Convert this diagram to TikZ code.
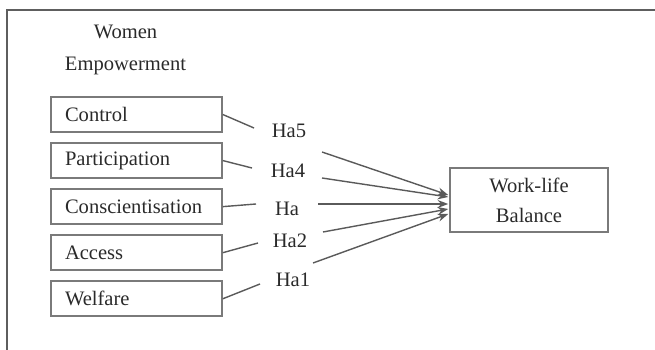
\documentclass[tikz,border=0pt]{standalone}
\usepackage{fontspec}
\setmainfont{Liberation Serif}
\usepackage{tikz}
\usetikzlibrary{positioning, calc, arrows.meta}
\definecolor{FrameGray}{HTML}{5E5E5E}
\definecolor{BoxGray}{HTML}{7A7A7A}
\definecolor{LinkGray}{HTML}{5A5A5A}
\definecolor{InkDark}{HTML}{2A2A2A}

\begin{document}
\begin{tikzpicture}[x=0.02cm, y=-0.02cm, font=\fontsize{11.7}{14}\selectfont, text=InkDark,
  factor/.style={draw=BoxGray, line width=0.9pt, minimum width=3.42cm, minimum height=0.7cm,
    text width=2.86cm, inner xsep=0.28cm, align=left},
  hyp/.style={inner sep=1pt},
  link/.style={LinkGray, line width=0.8pt},
  arr/.style={link, -{Stealth[length=6pt, width=4.5pt]}}]
  \useasboundingbox (0,0) rectangle (655,350);
  \draw[FrameGray, line width=1.3pt] (7,350) |- (655,10);
  \node[align=center] (title) at (125.5,50) {Women\\[4.2pt]Empowerment};
  % factor boxes
  \node[factor] (ctrl) at (136.5,114.5) {Control};
  \node[factor, below=0.19cm of ctrl] (part) {Participation};
  \node[factor, below=0.19cm of part] (consc) {Conscientisation};
  \node[factor, below=0.19cm of consc] (acc) {Access};
  \node[factor, below=0.19cm of acc] (welf) {Welfare};
  \node[draw=BoxGray, line width=0.9pt, minimum width=3.16cm, minimum height=1.28cm,
    align=center] (wlb) at (529,200) {Work-life\\[3pt]Balance};
  % hypothesis labels
  \node[hyp] (h5) at (289,131) {Ha5};
  \node[hyp] (h4) at (288,171) {Ha4};
  \node[hyp] (h3) at (287,209) {Ha};
  \node[hyp] (h2) at (290,241) {Ha2};
  \node[hyp] (h1) at (293,280) {Ha1};
  \coordinate (s5) at (254,128); \coordinate (l5) at (322,152);
  \coordinate (s4) at (252,168); \coordinate (l4) at (322,178);
  \coordinate (s3) at (256,204); \coordinate (l3) at (318,204);
  \coordinate (s2) at (258,243); \coordinate (l2) at (323,232);
  \coordinate (s1) at (260,284); \coordinate (l1) at (313,263);
  \foreach \b/\n/\dy in {ctrl/5/-5, part/4/-3, consc/3/4, acc/2/9, welf/1/14}{
    \draw[link] (\b.east) -- (s\n);
    \draw[arr] (l\n) -- ($(wlb.west)+(-1,\dy)$);}
\end{tikzpicture}
\end{document}
